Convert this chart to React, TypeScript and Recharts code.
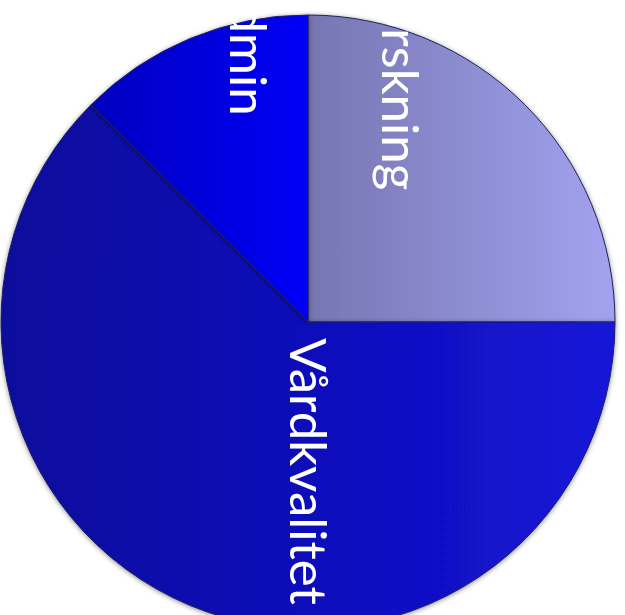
import React from 'react';
import { PieChart, Pie, Cell } from 'recharts';

const categories = ['Forskning', 'Vårdkvalitet', 'Admin'];
const values = [25, 62.5, 12.5];

const data = categories.map((name, i) => ({ name, value: values[i] }));

const gradients = [
  { id: 'gForskning', from: '#7676b2', to: '#a2a2f0' },
  { id: 'gVard', from: '#0a0a9c', to: '#1414d8' },
  { id: 'gAdmin', from: '#0606c0', to: '#0000f6' },
];

// label placement relative to pie centre (fraction of radius), rotated text
const labelStyle = [
  { dx: 0.24, dy: -0.429, anchor: 'end' },
  { dx: -0.058, dy: 0.052, anchor: 'start' },
  { dx: -0.253, dy: -0.672, anchor: 'end' },
];

const renderLabel = (props: any) => {
  const { cx, cy, outerRadius, index, name } = props;
  const s = labelStyle[index];
  const x = cx + s.dx * outerRadius;
  const y = cy + s.dy * outerRadius;
  return (
    <text
      x={x}
      y={y}
      fill="#ffffff"
      fontFamily="Lato, 'Open Sans', sans-serif"
      fontSize={51}
      textAnchor={s.anchor}
      transform={`rotate(90, ${x}, ${y})`}
    >
      {name}
    </text>
  );
};

export default function App() {
  return (
    <div style={{ position: 'fixed', left: 0, top: 0, width: 625, height: 615, overflow: 'hidden', background: '#fff' }}>
      <PieChart width={625} height={615} margin={{ top: 0, right: 0, bottom: 0, left: 0 }}>
        <defs>
          {gradients.map((g) => (
            <linearGradient key={g.id} id={g.id} x1="0" y1="0" x2="1" y2="0">
              <stop offset="0%" stopColor={g.from} />
              <stop offset="100%" stopColor={g.to} />
            </linearGradient>
          ))}
          <filter id="shadow" x="-10%" y="-10%" width="120%" height="120%">
            <feDropShadow dx="0" dy="1" stdDeviation="2.5" floodColor="#000" floodOpacity="0.45" />
          </filter>
        </defs>
        <Pie
          data={data}
          dataKey="value"
          nameKey="name"
          cx={308}
          cy={322}
          outerRadius={307}
          startAngle={90}
          endAngle={-270}
          stroke="#20205a"
          strokeWidth={1}
          isAnimationActive={false}
          labelLine={false}
          label={renderLabel}
          style={{ filter: 'url(#shadow)' }}
        >
          {data.map((d, i) => (
            <Cell key={d.name} fill={`url(#${gradients[i].id})`} />
          ))}
        </Pie>
      </PieChart>
    </div>
  );
}
